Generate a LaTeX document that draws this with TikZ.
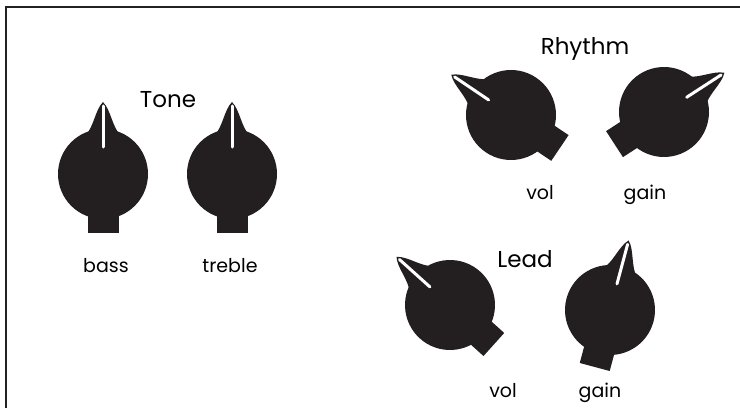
\documentclass[tikz,border=0pt]{standalone}
\usepackage{fontspec}
\setmainfont{Poppins}
\usepackage{tikz}
\definecolor{knobfill}{RGB}{35,31,32}
\definecolor{framecol}{RGB}{34,34,34}
\tikzset{
  knob/.pic={
    \fill[knobfill] (0,0) circle (45);
    \fill[knobfill] (-15.5,0) rectangle (15.5,-59);
    \fill[knobfill] (-18,38) .. controls (-9,47) and (-8,64) .. (0,72)
      .. controls (8,64) and (9,47) .. (18,38) -- cycle;
    \draw[white,line width=3pt,line cap=round] (0,27) -- (0,68);
  },
  lbl/.style={font=\fontsize{19}{19}\selectfont,anchor=base},
  head/.style={font=\fontsize{23}{23}\selectfont,anchor=base}
}

\begin{document}
\begin{tikzpicture}[x=1pt,y=1pt]
\useasboundingbox (0,0) rectangle (740,408);
% Drawing frame
\draw[framecol,line width=2.5pt] (6,0) -- (6,401) -- (740,401);
% Tone section
\node[head] (tone) at (168,300) {Tone};
\pic at (103,234) {knob};
\pic at (232,234) {knob};
\node[lbl] (bass) at (106,136) {bass};
\node[lbl] (treble) at (230,136) {treble};
% Rhythm section
\node[head] (rhythm) at (585,353) {Rhythm};
\pic[rotate=56] at (511,293) {knob};
\pic[rotate=-57] at (664,296) {knob};
\node[lbl] (rvol) at (540,209) {vol};
\node[lbl] (rgain) at (645,209) {gain};
% Lead section
\node[head] (lead) at (525,141) {Lead};
\pic[rotate=48] at (450,103) {knob};
\pic[rotate=-15] at (610,98) {knob};
\node[lbl] (lvol) at (503,11) {vol};
\node[lbl] (lgain) at (600,11) {gain};
% Done
\end{tikzpicture}
\end{document}
